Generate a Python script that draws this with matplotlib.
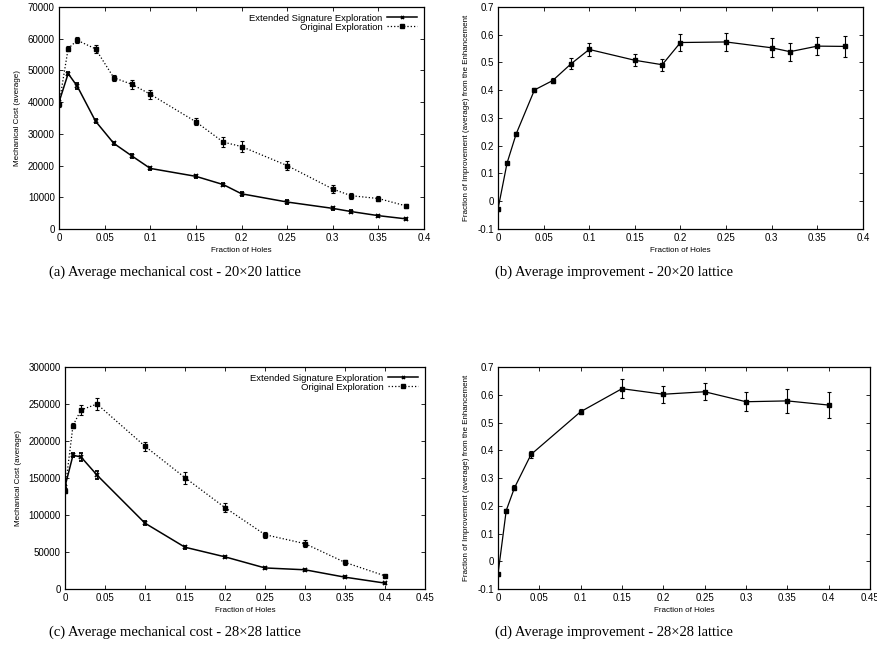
import matplotlib.pyplot as plt
import numpy as np

# --- dati ---
x20 = [0, 0.01, 0.02, 0.04, 0.06, 0.08, 0.1, 0.15, 0.18, 0.2, 0.25, 0.3, 0.32, 0.35, 0.38]
ext20 = [40000, 49000, 45000, 34000, 27000, 23000, 19100, 16600, 14000, 11100, 8500, 6500, 5500, 4200, 3200]
ext20_err = [700, 600, 900, 700, 500, 600, 600, 500, 600, 600, 500, 400, 400, 300, 300]
orig20 = [39300, 56900, 59500, 56800, 47700, 45600, 42500, 33800, 27400, 26000, 20000, 12600, 10500, 9600, 7300]
orig20_err = [800, 700, 1000, 1200, 1000, 1400, 1400, 1100, 1500, 1700, 1500, 1200, 900, 800, 700]

imp20 = [-0.029, 0.138, 0.243, 0.401, 0.435, 0.495, 0.547, 0.508, 0.492, 0.572, 0.574, 0.553, 0.539, 0.559, 0.558]
imp20_err = [0.005, 0.005, 0.005, 0.008, 0.01, 0.02, 0.022, 0.021, 0.021, 0.03, 0.031, 0.034, 0.033, 0.033, 0.038]

x28 = [0, 0.01, 0.02, 0.04, 0.1, 0.15, 0.2, 0.25, 0.3, 0.35, 0.4]
ext28 = [138500, 180800, 178500, 154000, 89000, 56500, 43500, 28500, 26000, 16000, 8000]
ext28_err = [2500, 3000, 5000, 5000, 2500, 2000, 1500, 1500, 1500, 1000, 800]
orig28 = [133000, 221000, 242000, 250000, 193000, 150500, 110000, 73500, 61300, 36000, 17800]
orig28_err = [3000, 4000, 7000, 8000, 6000, 8000, 6000, 4000, 5000, 3000, 1500]

imp28 = [-0.047, 0.183, 0.265, 0.385, 0.539, 0.622, 0.602, 0.611, 0.575, 0.578, 0.563]
imp28_err = [0.005, 0.007, 0.009, 0.012, 0.01, 0.035, 0.03, 0.031, 0.035, 0.042, 0.048]

captions = ["(a) Average mechanical cost - 20\u00d720 lattice",
            "(b) Average improvement - 20\u00d720 lattice",
            "(c) Average mechanical cost - 28\u00d728 lattice",
            "(d) Average improvement - 28\u00d728 lattice"]

plt.rcParams['font.family'] = ['Liberation Sans', 'DejaVu Sans']
TS = 7      # etichette dei tick
LS = 5.8    # etichette degli assi
GS = 6.8    # legenda

fig = plt.figure(figsize=(8.77, 6.67), dpi=100)
ax_a = fig.add_axes([0.0673, 0.6567, 0.4162, 0.3328])
ax_b = fig.add_axes([0.5678, 0.6567, 0.4162, 0.3328])
ax_c = fig.add_axes([0.0741, 0.1169, 0.4105, 0.3328])
ax_d = fig.add_axes([0.5678, 0.1169, 0.4242, 0.3328])


def stile(ax, xlim, ylim, xt, xfmt, yt, ylabel):
    ax.set_xlim(*xlim)
    ax.set_ylim(*ylim)
    ax.set_xticks(xt)
    ax.set_xticklabels(xfmt)
    ax.set_yticks(yt)
    ax.tick_params(direction='in', top=True, right=True, labelsize=TS,
                   length=3, width=0.6, pad=3)
    for s in ax.spines.values():
        s.set_linewidth(0.9)
    ax.set_xlabel('Fraction of Holes', fontsize=LS, labelpad=3)
    ax.set_ylabel(ylabel, fontsize=LS, labelpad=5)


def costo(ax, x, e, ee, o, oe):
    c1 = ax.errorbar(x, e, yerr=ee, color='black', lw=1.1, marker='x', ms=3, mew=1.3,
                     capsize=1.5, elinewidth=0.8, capthick=0.8)
    c2 = ax.errorbar(x, o, yerr=oe, color='black', lw=0.9, ls=':', marker='s', ms=3.5,
                     capsize=1.5, elinewidth=0.8, capthick=0.8)
    leg = ax.legend([c1[0], c2[0]], ['Extended Signature Exploration', 'Original Exploration'],
                    loc='upper right', fontsize=GS, frameon=False, markerfirst=False,
                    handlelength=3.2, borderaxespad=0.3, labelspacing=0.0,
                    handletextpad=0.5, markerscale=0.7)
    for t in leg.get_texts():
        t.set_ha('right')


def migl(ax, x, v, ve):
    ax.errorbar(x, v, yerr=ve, color='black', lw=0.9, marker='s', ms=2.5,
                capsize=1.5, elinewidth=0.8, capthick=0.8)


xt40 = [0, 0.05, 0.1, 0.15, 0.2, 0.25, 0.3, 0.35, 0.4]
xl40 = ['0', '0.05', '0.1', '0.15', '0.2', '0.25', '0.3', '0.35', '0.4']
xt45 = xt40 + [0.45]
xl45 = xl40 + ['0.45']
yt_imp = [-0.1, 0, 0.1, 0.2, 0.3, 0.4, 0.5, 0.6, 0.7]
yl_imp = ['-0.1', '0', '0.1', '0.2', '0.3', '0.4', '0.5', '0.6', '0.7']
ylab_imp = 'Fraction of Improvement (average) from the Enhancement'

costo(ax_a, x20, ext20, ext20_err, orig20, orig20_err)
stile(ax_a, (0, 0.4), (0, 70000), xt40, xl40, np.arange(0, 70001, 10000),
      'Mechanical Cost (average)')

migl(ax_b, x20, imp20, imp20_err)
stile(ax_b, (0, 0.4), (-0.1, 0.7), xt40, xl40, yt_imp, ylab_imp)

costo(ax_c, x28, ext28, ext28_err, orig28, orig28_err)
stile(ax_c, (0, 0.45), (0, 300000), xt45, xl45, np.arange(0, 300001, 50000),
      'Mechanical Cost (average)')

migl(ax_d, x28, imp28, imp28_err)
stile(ax_d, (0, 0.45), (-0.1, 0.7), xt45, xl45, yt_imp, ylab_imp)

for ax in (ax_b, ax_d):
    ax.set_yticklabels(yl_imp)

# didascalie
cap_pos = [(0.200, 0.592), (0.700, 0.592), (0.200, 0.052), (0.700, 0.052)]
for (cx, cy), txt in zip(cap_pos, captions):
    fig.text(cx, cy, txt, ha='center', va='center', fontsize=10.5,
             family=['Liberation Serif', 'DejaVu Serif'])

fig.savefig('out.png', dpi=100)
